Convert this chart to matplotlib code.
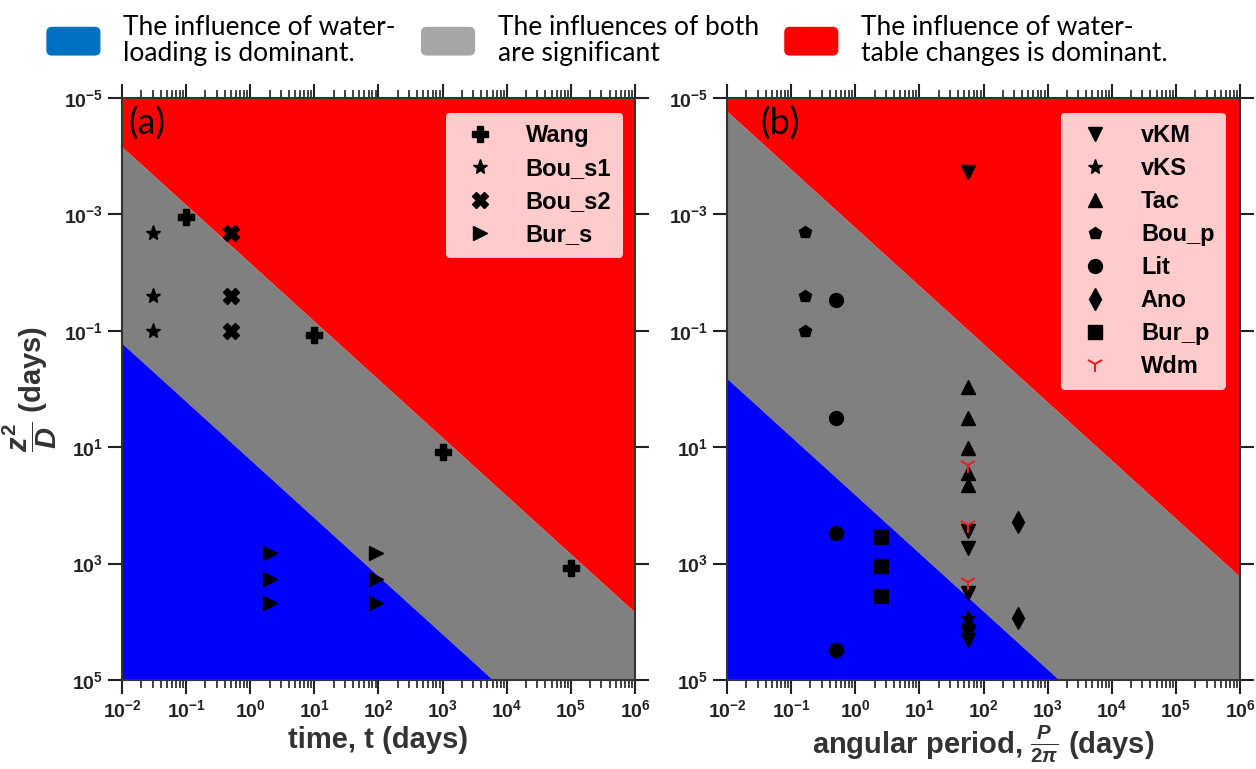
import matplotlib
matplotlib.use('Agg')
import matplotlib.pyplot as plt
from matplotlib.patches import Patch, FancyBboxPatch
from matplotlib.legend_handler import HandlerPatch
from matplotlib.ticker import LogLocator, NullLocator
import numpy as np

plt.rcParams['font.family'] = ['Liberation Sans', 'DejaVu Sans']
plt.rcParams['font.weight'] = 'bold'
plt.rcParams['mathtext.fontset'] = 'custom'
plt.rcParams['mathtext.rm'] = 'Liberation Sans:bold'
plt.rcParams['mathtext.bf'] = 'Liberation Sans:bold'
plt.rcParams['mathtext.it'] = 'Liberation Sans:bold:italic'
plt.rcParams['mathtext.sf'] = 'Liberation Sans:bold'

# boundaries: z^2/D = x * 10**offset (upper -> red/grey, lower -> grey/blue)
step_upper, step_lower = -2.16, 1.215
per_upper, per_lower = -2.77, 1.82

# (a) step loading, time t in days
wang_t = [0.1, 10, 1e3, 1e5]
wang_z = [1.1e-3, 0.12, 12, 1.2e3]
bou_s1_t = [0.03, 0.03, 0.03]
bou_s1_z = [2.1e-3, 0.025, 0.1]
bou_s2_t = [0.5, 0.5, 0.5]
bou_s2_z = [2.1e-3, 0.025, 0.1]
bur_s_t = [2, 2, 2, 90, 90, 90]
bur_s_z = [650, 1860, 4700, 650, 1860, 4700]

# (b) periodic loading, angular period P/2pi in days
vkm_p = [58, 58, 58, 58, 58, 58]
vkm_z = [1.85e-4, 280, 545, 3240, 15500, 20400]
vks_p = [58, 58]
vks_z = [8700, 12000]
tac_p = [58, 58, 58, 58, 58]
tac_z = [0.91, 3.2, 10.5, 28, 45]
bou_p_p = [0.166, 0.166, 0.166]
bou_p_z = [2e-3, 0.025, 0.1]
lit_p = [0.5, 0.5, 0.5, 0.5]
lit_z = [0.03, 3.1, 300, 30000]
ano_p = [340, 340]
ano_z = [190, 8700]
bur_p_p = [2.5, 2.5, 2.5]
bur_p_z = [355, 1100, 3550]
wdm_p = [58, 58, 58]
wdm_z = [20, 220, 2050]

fig = plt.figure(figsize=(12.56, 7.69), dpi=100)
ax1 = fig.add_axes([0.0971, 0.1157, 0.4085, 0.7569])
ax2 = fig.add_axes([0.5788, 0.1157, 0.4085, 0.7569])


def background(ax, up, low):
    x = np.logspace(-2, 6, 50)
    ax.fill_between(x, 1e-5, x * 10**up, color='#ff0000', lw=0)
    ax.fill_between(x, x * 10**up, x * 10**low, color='#808080', lw=0)
    ax.fill_between(x, x * 10**low, 1e6, color='#0000ff', lw=0)


def style(ax):
    ax.set_xscale('log')
    ax.set_yscale('log')
    ax.set_xlim(1e-2, 1e6)
    ax.set_ylim(1e5, 1e-5)
    ax.xaxis.set_major_locator(LogLocator(base=10, numticks=20))
    ax.xaxis.set_minor_locator(LogLocator(base=10, subs=np.arange(2, 10), numticks=20))
    ax.set_yticks([1e-5, 1e-3, 1e-1, 1e1, 1e3, 1e5])
    ax.yaxis.set_minor_locator(NullLocator())
    ax.tick_params(which='both', direction='out', top=True, right=True,
                   labelsize=14, colors='#222222', width=1.5)
    ax.tick_params(which='major', length=10)
    ax.tick_params(which='minor', length=6, width=1.2)
    for s in ax.spines.values():
        s.set_linewidth(1.5)
        s.set_color('#333333')


def inner_legend(ax, xr):
    ax.legend(loc='upper right', bbox_to_anchor=(xr, 0.975), borderaxespad=0,
              labelspacing=0.42, handlelength=1.9, handletextpad=1.0,
              borderpad=0.5, framealpha=0.8, edgecolor='none',
              prop={'size': 17, 'weight': 'bold'})


background(ax1, step_upper, step_lower)
ax1.plot(wang_t, wang_z, ls='none', marker='P', ms=11, color='k', label='Wang')
ax1.plot(bou_s1_t, bou_s1_z, ls='none', marker='*', ms=11, color='k', label='Bou_s1')
ax1.plot(bou_s2_t, bou_s2_z, ls='none', marker='X', ms=11, color='k', label='Bou_s2')
ax1.plot(bur_s_t, bur_s_z, ls='none', marker='>', ms=10, color='k', label='Bur_s')
style(ax1)
ax1.set_xlabel('time, t (days)', fontsize=21, fontweight='bold', color='#333333',
               labelpad=4)
ax1.set_ylabel(r'$\dfrac{z^2}{D}$ (days)', fontsize=21, fontweight='bold',
               color='#333333', labelpad=4)
ax1.text(0.012, 0.985, '(a)', transform=ax1.transAxes, fontsize=26, fontweight='normal',
         family='Lato', va='top', ha='left')
inner_legend(ax1, 0.977)

background(ax2, per_upper, per_lower)
ax2.plot(vkm_p, vkm_z, ls='none', marker='v', ms=10, color='k', label='vKM')
ax2.plot(vks_p, vks_z, ls='none', marker='*', ms=11, color='k', label='vKS')
ax2.plot(tac_p, tac_z, ls='none', marker='^', ms=10, color='k', label='Tac')
ax2.plot(bou_p_p, bou_p_z, ls='none', marker='p', ms=9, color='k', label='Bou_p')
ax2.plot(lit_p, lit_z, ls='none', marker='o', ms=10, color='k', label='Lit')
ax2.plot(ano_p, ano_z, ls='none', marker='d', ms=11, color='k', label='Ano')
ax2.plot(bur_p_p, bur_p_z, ls='none', marker='s', ms=10, color='k', label='Bur_p')
ax2.plot(wdm_p, wdm_z, ls='none', marker='1', ms=12, mew=1.5, color='#e8202a', label='Wdm')
style(ax2)
ax2.set_xlabel(r'angular period, $\frac{P}{2\pi}$ (days)', fontsize=21,
               fontweight='bold', color='#333333', labelpad=2)
ax2.text(0.065, 0.985, '(b)', transform=ax2.transAxes, fontsize=26, fontweight='normal',
         family='Lato', va='top', ha='left')
inner_legend(ax2, 0.973)


def rounded(legend, orig_handle, xdescent, ydescent, width, height, fontsize):
    return FancyBboxPatch((-xdescent, -ydescent), width, height,
                          boxstyle='round,pad=0,rounding_size=4')


zones = [Patch(facecolor='#0070c0', label='The influence of water-\nloading is dominant.'),
         Patch(facecolor='#a6a6a6', label='The influences of both\nare significant'),
         Patch(facecolor='#ff0000', label='The influence of water-\ntable changes is dominant.')]
top = fig.legend(handles=zones, ncol=3, loc='upper left', bbox_to_anchor=(0.018, 1.012),
                 frameon=False, handlelength=2.05, handleheight=1.3, handletextpad=0.87,
                 columnspacing=0.95, handler_map={Patch: HandlerPatch(patch_func=rounded)},
                 prop={'family': 'Lato', 'size': 19, 'weight': 'normal'})
for t in top.get_texts():
    t.set_linespacing(1.05)

fig.savefig('out.png', dpi=100)
